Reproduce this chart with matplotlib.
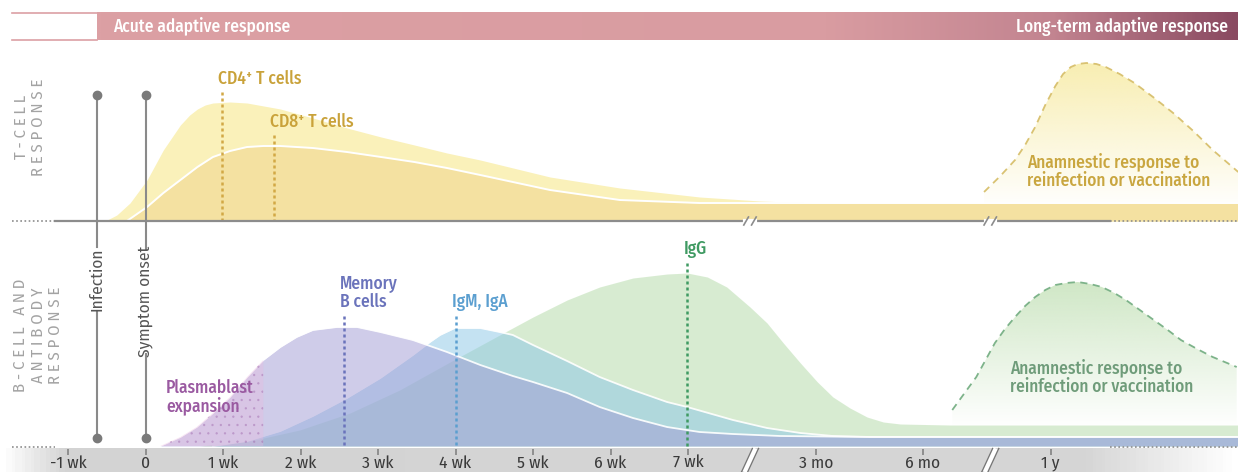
import numpy as np
import matplotlib.pyplot as plt
from matplotlib import font_manager as fm
from matplotlib.colors import LinearSegmentedColormap, to_rgb

installed = {f.name for f in fm.fontManager.ttflist}
FONT = next((f for f in ['Fira Sans Condensed', 'Barlow Semi Condensed', 'Asap Condensed',
                         'Archivo Narrow', 'Roboto'] if f in installed), 'DejaVu Sans')
plt.rcParams['font.family'] = [FONT, 'DejaVu Sans']
plt.rcParams['hatch.linewidth'] = 0.5

# axis positions in "week" units of the drawn timeline (months/years compressed after the breaks)
tick_pos = [-1, 0, 1, 2, 3, 4, 5, 6, 7, 8.65, 10.03, 11.68]
tick_labels = ['-1 wk', '0', '1 wk', '2 wk', '3 wk', '4 wk', '5 wk', '6 wk', '7 wk',
               '3 mo', '6 mo', '1 y']
axis_breaks = [7.80, 10.90]
event_names = ['Infection', 'Symptom onset']
event_pos = [-0.63, 0.0]

# T-cell response (height above baseline)
cd4_x = [-0.52, -0.37, -0.20, 0.02, 0.23, 0.45, 0.57, 0.67, 0.77, 0.87, 1.09, 1.31, 1.74,
         2.16, 2.60, 3.04, 3.47, 3.89, 4.32, 5.22, 6.12, 7.15, 7.93, 8.68, 14.1]
cd4_h = [0, 6, 18, 41, 71, 96, 106, 112, 116, 118, 119, 118, 112,
         103, 93, 84, 76, 68, 61, 44, 33, 24, 20, 18, 18]
cd8_x = [-0.24, 0.02, 0.23, 0.45, 0.67, 0.87, 1.09, 1.31, 1.52, 1.74, 2.16, 2.60, 3.04,
         3.47, 3.89, 4.32, 5.22, 6.12, 7.15, 14.1]
cd8_h = [0, 14, 28, 41, 54, 64, 70, 74, 75, 75, 73, 69, 64,
         59, 53, 46, 31, 21, 18, 18]
t_recall_x = [10.82, 11.03, 11.22, 11.35, 11.48, 11.61, 11.74, 11.84, 11.94, 12.03, 12.14,
              12.27, 12.39, 12.57, 12.76, 13.00, 13.26, 13.52, 13.77, 14.1]
t_recall_h = [29, 45, 61, 76, 94, 116, 135, 147, 154, 157, 158,
              157, 154, 147, 138, 124, 108, 90, 71, 49]

# B-cell and antibody response (height above baseline)
mem_x = [0.19, 0.45, 0.66, 0.87, 1.09, 1.31, 1.52, 1.74, 1.95, 2.16, 2.47, 2.73, 3.03, 3.45,
         3.89, 4.32, 4.74, 5.0, 5.44, 5.86, 6.29, 6.73, 7.15, 7.58, 8.19, 9.35, 14.1]
mem_h = [0, 9, 19, 33, 49, 69, 86, 99, 109, 116, 119, 119, 114, 106,
         94, 81, 70, 64, 53, 39, 28, 19, 14, 12, 10, 9, 9]
igm_x = [0.87, 1.31, 1.74, 2.16, 2.60, 3.03, 3.45, 3.67, 3.80, 3.99, 4.32, 4.57, 4.74, 5.0,
         5.44, 5.86, 6.29, 6.73, 6.99, 7.58, 8.02, 8.45, 8.87, 9.35, 14.1]
igm_h = [0, 5, 15, 30, 48, 68, 91, 104, 111, 118, 118, 114, 111, 101,
         85, 69, 56, 44, 39, 26, 18, 13, 10, 9, 9]
igg_x = [0.70, 1.35, 1.99, 2.64, 3.28, 3.93, 4.57, 5.0, 5.44, 5.86, 6.29, 6.73, 6.99, 7.25,
         7.50, 7.80, 8.02, 8.23, 8.45, 8.67, 8.87, 9.09, 9.31, 9.52, 9.74, 10.38, 14.1]
igg_h = [0, 5, 16, 33, 56, 84, 111, 129, 146, 159, 168, 172, 173, 169,
         159, 139, 123, 103, 83, 64, 49, 38, 29, 24, 22, 21, 21]
plasma_end = 1.52
b_recall_x = [10.41, 10.56, 10.72, 10.84, 10.96, 11.09, 11.22, 11.35, 11.48, 11.61, 11.74,
              11.88, 12.03, 12.19, 12.34, 12.50, 12.65, 12.83, 13.01, 13.19, 13.36, 13.57,
              13.77, 14.08]
b_recall_h = [36, 52, 69, 86, 103, 117, 129, 140, 149, 156, 161,
              163, 164, 162, 159, 153, 146, 136, 126, 116, 106, 97, 89, 79]

# peak markers: name, x position, colour
t_peaks = [('CD4\u207a T cells', 0.99), ('CD8\u207a T cells', 1.66)]
b_peaks = [('Memory\nB cells', 2.56, '#6a73bb'), ('IgM, IgA', 4.00, '#5b9fd0'),
           ('IgG', 6.99, '#3f9a62')]

# ---- layout (pixel space vertically, week units horizontally) ----
W, H = 1238, 472
ORIGIN, PPW = 145.5, 77.5
X_MIN, X_MAX = (0 - ORIGIN) / PPW, (W - ORIGIN) / PPW
T_BASE, B_BASE = 221, 446
FS = 12.5


def u(px):
    return (px - ORIGIN) / PPW


fig = plt.figure(figsize=(W / 100, H / 100), dpi=100)
ax = fig.add_axes([0, 0, 1, 1])
ax.axis('off')

# top banner
banner = LinearSegmentedColormap.from_list(
    'banner', [(0, '#dca0a4'), (0.64, '#d99ca1'), (0.84, '#c28490'), (1, '#8a4a61')])
ax.imshow(np.linspace(0, 1, 400)[None, :], cmap=banner, aspect='auto',
          extent=(u(97), X_MAX, 40, 12), zorder=1)
ax.plot([u(12), u(97)], [12.5, 12.5], color='#dca0a4', lw=1.2)
ax.plot([u(12), u(97)], [39.5, 39.5], color='#dca0a4', lw=1.2)
ax.text(u(113), 26, 'Acute adaptive response', color='white', fontsize=FS, va='center',
        fontweight='medium')
ax.text(u(1228), 26, 'Long-term adaptive response', color='white', fontsize=FS,
        va='center', ha='right', fontweight='medium')


def faded_fill(xs, ys, bottom, color, fade_to):
    xs, ys = list(xs), list(ys)
    patch = ax.fill(xs + [xs[-1], xs[0]], ys + [bottom, bottom], fc='none', ec='none')[0]
    rgba = np.zeros((120, 1, 4))
    rgba[..., :3] = to_rgb(color)
    rgba[:, 0, 3] = np.linspace(0.95, 0.0, 120)
    im = ax.imshow(rgba, aspect='auto', interpolation='bilinear', zorder=1,
                   extent=(min(xs), max(xs), fade_to, min(ys)))
    im.set_clip_path(patch)


# T-cell panel
cd4_y = T_BASE - np.array(cd4_h)
cd8_y = T_BASE - np.array(cd8_h)
ax.fill_between(cd4_x, T_BASE, cd4_y, color='#faf1ba', lw=0, zorder=2)
ax.fill_between(cd8_x, T_BASE, cd8_y, color='#f4e1a1', lw=0, zorder=2)
ax.plot(cd8_x, cd8_y, color='white', lw=1.4, zorder=2)

t_recall_y = T_BASE - np.array(t_recall_h)
faded_fill(t_recall_x, t_recall_y, T_BASE - 18, '#f8edae', T_BASE - 12)
ax.plot(t_recall_x, t_recall_y, color='#d9c272', lw=1.3, ls=(0, (4, 3)), zorder=3)
ax.text(u(1027), 171, 'Anamnestic response to\nreinfection or vaccination',
        color='#c9a640', fontsize=FS, va='center', linespacing=1.05, zorder=4,
        fontweight='medium')

for (lab, xp), top in zip(t_peaks, [92, 135]):
    ax.plot([xp, xp], [top, T_BASE], color='#d2a845', lw=1.8, ls=(0, (1.2, 1.2)), zorder=3)
    ax.text(xp - 0.05, top - 13, lab, color='#c9a23a', fontsize=FS, va='center', zorder=4,
            fontweight='medium')

# B-cell panel
igg_y = B_BASE - np.array(igg_h)
igm_y = B_BASE - np.array(igm_h)
mem_y = B_BASE - np.array(mem_h)
ax.fill_between(igg_x, B_BASE, igg_y, color='#b1d9a5', alpha=0.5, lw=0, zorder=2)
ax.fill_between(igm_x, B_BASE, igm_y, color='#8bc7e7', alpha=0.5, lw=0, zorder=2)
ax.plot(igm_x, igm_y, color='white', lw=1.3, alpha=0.9, zorder=2)
ax.fill_between(mem_x, B_BASE, mem_y, color='#a19bd5', alpha=0.5, lw=0, zorder=2)
ax.plot(mem_x, mem_y, color='white', lw=1.3, alpha=0.9, zorder=2)
mem_xa = np.array(mem_x)
ax.fill_between(mem_x, B_BASE, mem_y, where=mem_xa <= plasma_end, facecolor='#eab8de',
                alpha=0.35, edgecolor='#9a62a8', hatch='..', lw=0, zorder=2)
ax.text(u(166), 397, 'Plasmablast\nexpansion', color='#9a5aa1', fontsize=FS,
        va='center', linespacing=1.0, zorder=4, fontweight='medium')

b_recall_y = B_BASE - np.array(b_recall_h)
faded_fill(b_recall_x, b_recall_y, B_BASE - 21, '#cde6c3', B_BASE - 18)
ax.plot(b_recall_x, b_recall_y, color='#7db38a', lw=1.3, ls=(0, (4, 3)), zorder=3)
ax.text(u(1010), 377, 'Anamnestic response to\nreinfection or vaccination',
        color='#6f9c7a', fontsize=FS, va='center', linespacing=1.05, zorder=4,
        fontweight='medium')

for (lab, xp, col), top in zip(b_peaks, [316, 316, 263]):
    ax.plot([xp, xp], [top, B_BASE], color=col, lw=1.8, ls=(0, (1.2, 1.2)), zorder=3)
    ax.text(xp - 0.05, top - 5, lab, color=col, fontsize=FS, va='bottom',
            linespacing=1.0, zorder=4, fontweight='medium')

# baselines
gray = '#8c8c8c'
ax.plot([u(55), u(1110)], [T_BASE, T_BASE], color=gray, lw=1.6, zorder=3)
for yb in [T_BASE, B_BASE + 1]:
    ax.plot([u(12), u(55)], [yb, yb], color=gray, lw=1.2, ls=(0, (1, 1.5)), zorder=3)
    ax.plot([u(1110), X_MAX], [yb, yb], color=gray, lw=1.2, ls=(0, (1, 1.5)), zorder=3)
for b in axis_breaks:
    ax.plot([b - 0.06, b + 0.06], [T_BASE, T_BASE], color='white', lw=3, zorder=3)
    for off in (-0.05, 0.05):
        ax.plot([b + off - 0.03, b + off + 0.03], [T_BASE + 4, T_BASE - 4],
                color=gray, lw=1.2, zorder=3)

# bottom time axis band
band = LinearSegmentedColormap.from_list(
    'band', [(0, '#ffffff'), (0.05, '#d3d3d3'), (0.88, '#d6d6d6'), (1, '#ffffff')])
ax.imshow(np.linspace(0, 1, 400)[None, :], cmap=band, aspect='auto',
          extent=(X_MIN, X_MAX, H, 448.5), zorder=1)
ax.vlines(tick_pos, 449, 455, color='#7c7c7c', lw=1.1, zorder=3)
for p, lab in zip(tick_pos, tick_labels):
    ax.text(p, 463, lab, ha='center', va='center', fontsize=FS, color='#3a3a3a', zorder=4)
for b in axis_breaks:
    ax.plot([b - 0.07, b + 0.07], [H, 448.5], color='white', lw=5,
            solid_capstyle='butt', zorder=3)
    for off in (-0.04, 0.04):
        ax.plot([b - 0.07 + off, b + 0.07 + off], [H, 448.5], color='#777777', lw=1,
                zorder=3)

# event markers
gaps = {'Infection': (247, 311), 'Symptom onset': (249, 354)}
for name, xp in zip(event_names, event_pos):
    g0, g1 = gaps[name]
    ax.plot([xp, xp], [95, g0], color='#8a8a8a', lw=1.5, zorder=3)
    ax.plot([xp, xp], [g1, 438], color='#8a8a8a', lw=1.5, zorder=3)
    ax.plot([xp, xp], [95, 438], 'o', color='#7a7a7a', ms=6, zorder=4)
    ax.text(xp, (g0 + g1) / 2, name, rotation=90, ha='center', va='center',
            fontsize=FS, color='#555555', zorder=4)

# panel titles
ax.text(u(30), 127, ' '.join('T-CELL') + '\n' + ' '.join('RESPONSE'), rotation=90,
        ha='center', va='center', multialignment='center', fontsize=12, color='#a3a3a3',
        linespacing=1.1)
ax.text(u(38), 335, ' '.join('B-CELL') + '   ' + ' '.join('AND') + '\n' + ' '.join('ANTIBODY')
        + '\n' + ' '.join('RESPONSE'), rotation=90, ha='center', va='center',
        multialignment='center', fontsize=12, color='#a3a3a3', linespacing=1.1)

ax.set_xlim(X_MIN, X_MAX)
ax.set_ylim(H, 0)
fig.savefig('out.png', dpi=100)
